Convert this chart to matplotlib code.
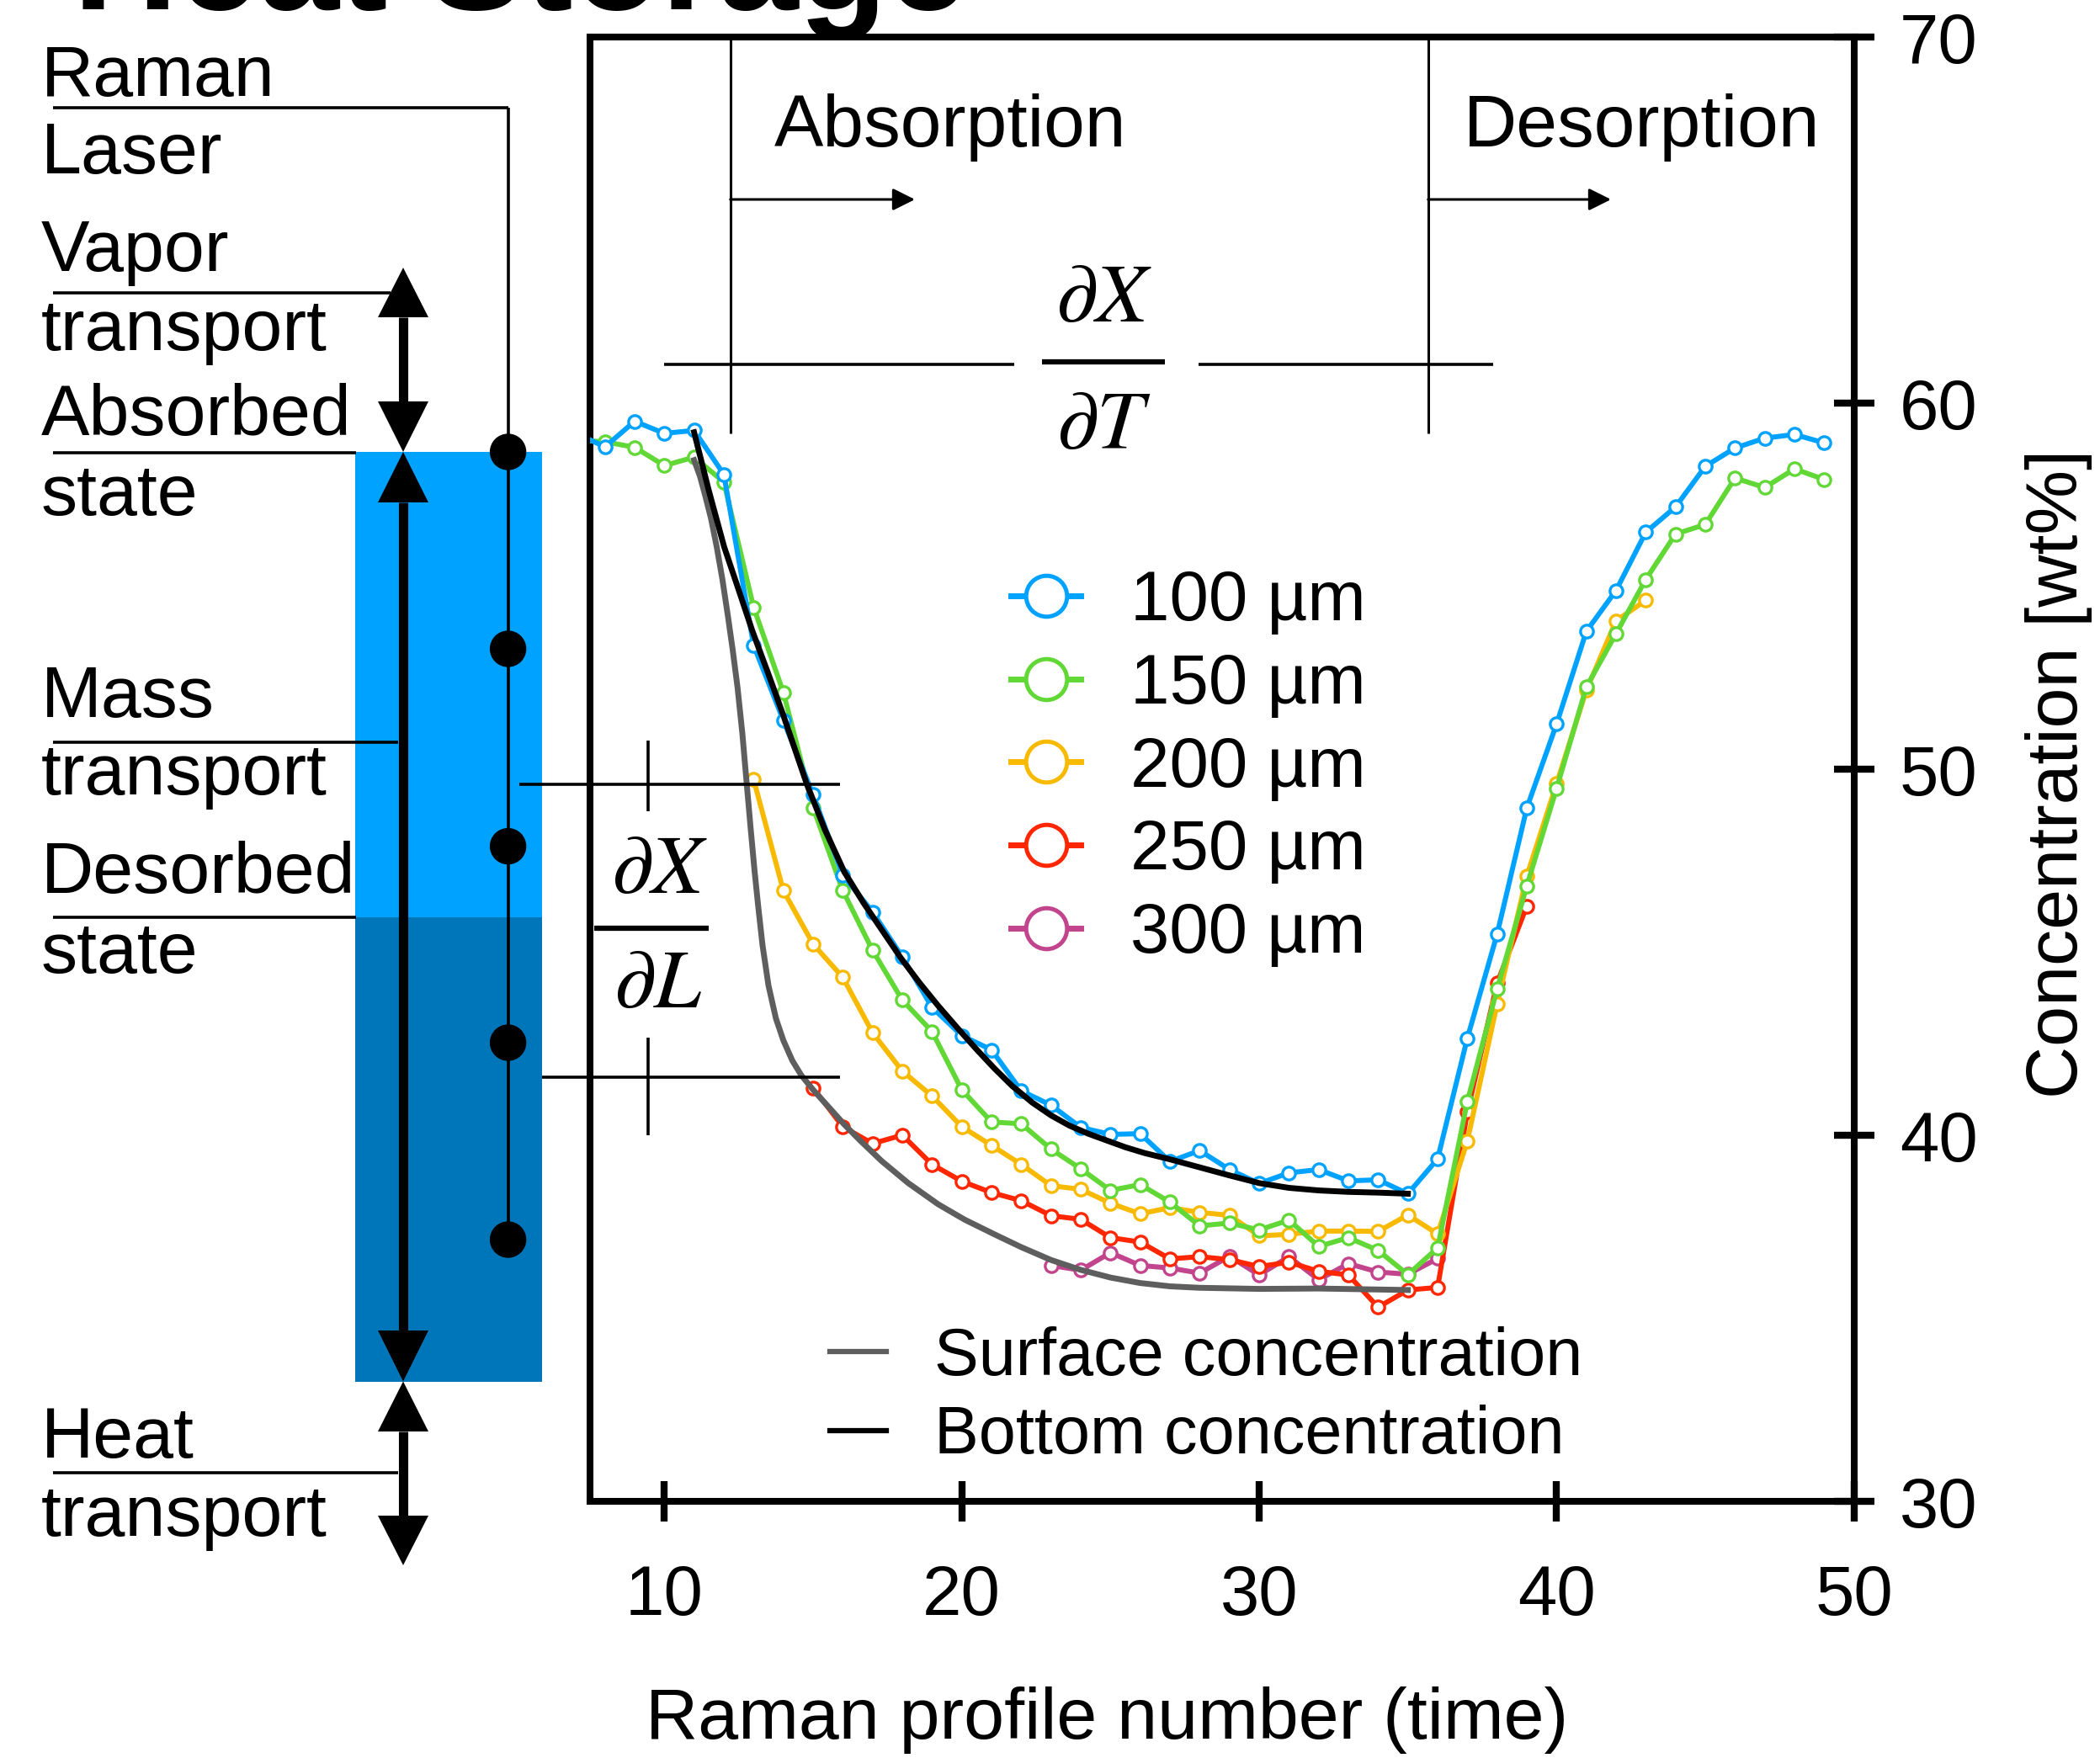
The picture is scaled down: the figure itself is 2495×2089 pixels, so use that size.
import matplotlib
matplotlib.use("Agg")
import matplotlib.pyplot as plt
from matplotlib.lines import Line2D
from matplotlib.patches import Rectangle, Circle, Polygon

plt.rcParams['font.family'] = ['Liberation Sans', 'DejaVu Sans']
plt.rcParams['mathtext.fontset'] = 'stix'

# ---------------- data ----------------
x100 = list(range(7, 50))
y100 = [59.2, 58.81, 59.51, 59.18, 59.26, 58.06, 53.39, 51.34, 49.31, 47.11,
        46.11, 44.88, 43.50, 42.73, 42.34, 41.22, 40.83, 40.22, 40.03, 40.05,
        39.29, 39.59, 39.07, 38.69, 38.98, 39.07, 38.76, 38.79, 38.41, 39.36,
        42.66, 45.50, 48.95, 51.24, 53.77, 54.89, 56.48, 57.17, 58.28, 58.78,
        59.05, 59.15, 58.92]

x150 = list(range(7, 50))
y150 = [59.0, 58.95, 58.80, 58.30, 58.53, 57.85, 54.43, 52.11, 48.96, 46.69,
        45.06, 43.70, 42.84, 41.25, 40.37, 40.32, 39.63, 39.09, 38.50, 38.66,
        38.18, 37.53, 37.61, 37.42, 37.69, 36.97, 37.21, 36.86, 36.20, 36.93,
        40.93, 44.00, 46.82, 49.48, 52.25, 53.71, 55.19, 56.43, 56.69, 57.96,
        57.70, 58.21, 57.92]

x200 = list(range(13, 44))
y200 = [49.73, 46.69, 45.23, 44.32, 42.81, 41.76, 41.08, 40.24, 39.73, 39.21,
        38.63, 38.53, 38.15, 37.86, 38.03, 37.90, 37.82, 37.26, 37.30, 37.39,
        37.39, 37.38, 37.83, 37.31, 39.85, 43.59, 47.09, 49.61, 52.16, 54.06,
        54.62]

x250 = list(range(15, 40))
y250 = [41.30, 40.24, 39.78, 40.01, 39.21, 38.75, 38.44, 38.22, 37.81, 37.71,
        37.21, 37.09, 36.63, 36.69, 36.61, 36.42, 36.54, 36.29, 36.19, 35.31,
        35.78, 35.85, 40.64, 44.16, 46.27]

x300 = list(range(23, 37))
y300 = [36.45, 36.32, 36.80, 36.45, 36.38, 36.24, 36.70, 36.19, 36.69, 36.06,
        36.50, 36.27, 36.21, 36.64]

x_surface = [11.0, 11.2, 11.38, 11.57, 11.76, 11.95, 12.14, 12.3, 12.46, 12.62,
             12.77, 12.9, 13.03, 13.15, 13.3, 13.5, 13.75, 14.0, 14.3, 14.6,
             15.0, 15.5, 16.05, 16.6, 17.31, 18.2, 19.21, 20.1, 21.1, 22.0,
             23.0, 24.0, 25.0, 26.0, 27.0, 28.0, 30.0, 32.0, 35.0]
y_surface = [58.45, 58.0, 57.46, 56.85, 56.08, 55.2, 54.17, 53.25, 52.24, 51.0,
             49.6, 48.4, 47.25, 46.3, 45.2, 44.1, 43.2, 42.6, 42.05, 41.65,
             41.25, 40.8, 40.3, 39.85, 39.3, 38.7, 38.12, 37.7, 37.3, 36.95,
             36.6, 36.33, 36.12, 35.97, 35.88, 35.84, 35.81, 35.82, 35.78]

x_bottom = [11.0, 11.5, 12.01, 12.5, 12.96, 13.5, 14.0, 14.79, 15.4, 16.05, 16.7,
            17.31, 17.95, 18.58, 19.2, 19.84, 20.5, 21.1, 21.7, 22.37, 23.0,
            23.62, 24.25, 24.89, 25.5, 26.15, 27.0, 28.0, 29.0, 30.0, 31.0,
            32.0, 33.0, 34.0, 35.0]
y_bottom = [59.21, 57.6, 56.08, 54.9, 53.78, 52.6, 51.48, 49.6, 48.35, 47.2, 46.35,
            45.62, 44.85, 44.17, 43.55, 42.95, 42.35, 41.83, 41.35, 40.9, 40.55,
            40.27, 40.05, 39.86, 39.68, 39.52, 39.35, 39.13, 38.91, 38.7, 38.57,
            38.5, 38.46, 38.44, 38.41]

series_labels = ['100 µm', '150 µm', '200 µm', '250 µm', '300 µm']
series_colors = ['#00A2FF', '#61D836', '#F8BA00', '#FF2600', '#C2448C']
curve_labels = ['Surface concentration', 'Bottom concentration']
curve_colors = ['#5E5E5E', '#000000']

xticks = [10, 20, 30, 40, 50]
yticks = [30, 40, 50, 60, 70]

# ---------------- figure ----------------
W, H = 2495, 2089
fig = plt.figure(figsize=(W / 100, H / 100), dpi=100)

L, R, T, B = 701, 2202.7, 44.3, 1784.3
ax = fig.add_axes([L / W, (H - B) / H, (R - L) / W, (B - T) / H])
ax.set_xlim(7.5, 50)
ax.set_ylim(30, 70)
ax.set_xticks(xticks)
ax.set_yticks(yticks)
ax.yaxis.tick_right()
ax.tick_params(axis='both', direction='inout', length=34, width=6, labelsize=60)
ax.tick_params(axis='x', pad=36)
ax.tick_params(axis='y', pad=22)
for s in ax.spines.values():
    s.set_linewidth(5.8)

xs = [x300, x250, x200, x150, x100]
ys = [y300, y250, y200, y150, y100]
cols = series_colors[::-1]
for xv, yv, c in zip(xs, ys, cols):
    ax.plot(xv, yv, '-o', color=c, lw=4.3, ms=11, mfc='white', mec=c, mew=2.4, zorder=3)

ax.plot(x_surface, y_surface, '-', color=curve_colors[0], lw=5, zorder=4,
        solid_joinstyle='round')
ax.plot(x_bottom, y_bottom, '-', color=curve_colors[1], lw=5, zorder=4,
        solid_joinstyle='round')

h1 = [Line2D([], [], color=c, lw=5, marker='o', ms=35, mfc='white', mec=c, mew=3.6)
      for c in series_colors]
leg1 = ax.legend(h1, series_labels, loc='upper left',
                 bbox_to_anchor=(1201 / W, 1 - 676 / H), bbox_transform=fig.transFigure,
                 frameon=False, fontsize=60, handlelength=1.0, handletextpad=0.7,
                 labelspacing=0.25, borderpad=0, borderaxespad=0)
ax.add_artist(leg1)
h2 = [Line2D([], [], color=c, lw=4.5) for c in curve_colors]
ax.legend(h2, curve_labels, loc='upper left',
          bbox_to_anchor=(986 / W, 1 - 1576 / H), bbox_transform=fig.transFigure,
          frameon=False, fontsize=57, handlelength=0.85, handletextpad=0.72,
          labelspacing=0.23, borderpad=0, borderaxespad=0)

# ---------------- overlay (schematic + annotations, in pixels) ----------------
ov = fig.add_axes([0, 0, 1, 1], zorder=5)
ov.set_xlim(0, W)
ov.set_ylim(H, 0)
ov.set_axis_off()
ov.patch.set_alpha(0)


def seg(x0, y0, x1, y1, lw=2.6, z=3):
    ov.plot([x0, x1], [y0, y1], color='k', lw=lw, solid_capstyle='butt', zorder=z)


# title (cut at the top edge, as in the source figure)
ov.text(1150, 10.7, 'Heat Storage', ha='right', va='baseline', fontsize=124,
        fontweight='bold')

# blue sample block
ov.add_patch(Rectangle((422, 537), 222, 553, color='#00A2FF', lw=0, zorder=1))
ov.add_patch(Rectangle((422, 1090), 222, 551.5, color='#0076BA', lw=0, zorder=1))

# Raman laser line and dots
seg(62.5, 128, 603.6, 128)
seg(603.6, 128, 603.6, 1473)
for yy in [537, 771, 1005.6, 1239, 1473]:
    ov.add_patch(Circle((603.6, yy), 21, color='k', zorder=4))

# label lines
for yy, xe in [(348, 464), (538, 423), (881.6, 473), (1090, 423), (1749.6, 473)]:
    seg(62.5, yy, xe, yy)

# thick double arrows
ax_x = 479
for y0, y1 in [(377, 477), (597, 1581), (1701, 1801)]:
    seg(ax_x, y0, ax_x, y1, lw=8, z=4)
for tip, base in [(318, 377), (537, 597), (1641.5, 1701),
                  (537, 477), (1641.5, 1581), (1860, 1801)]:
    ov.add_patch(Polygon([(ax_x, tip), (ax_x - 30, base), (ax_x + 30, base)],
                         closed=True, color='k', lw=0, zorder=4))

# texts of schematic
for txt, yb in [('Raman', 114), ('Laser', 206), ('Vapor', 322), ('transport', 416),
                ('Absorbed', 517), ('state', 612), ('Mass', 852), ('transport', 943.6),
                ('Desorbed', 1061), ('state', 1156), ('Heat', 1732), ('transport', 1825)]:
    ov.text(49, yb, txt, ha='left', va='baseline', fontsize=62)

# dX/dL markers
seg(617, 932, 998, 932)
seg(644, 1279.5, 998, 1279.5)
seg(770, 880, 770, 964)
seg(770, 1232.6, 770, 1348.7)
seg(705.6, 1103, 841.8, 1103, lw=4.5)
ov.text(783, 1060.7, r'$\partial X$', ha='center', va='baseline', fontsize=72)
ov.text(782, 1196.9, r'$\partial L$', ha='center', va='baseline', fontsize=72)

# dX/dT markers
seg(789, 432.8, 1204.5, 432.8)
seg(1424, 432.8, 1774, 432.8)
seg(1238, 429.6, 1384, 429.6, lw=4.5)
ov.text(1311, 382, r'$\partial X$', ha='center', va='baseline', fontsize=72)
ov.text(1311, 533.3, r'$\partial T$', ha='center', va='baseline', fontsize=72)

# absorption / desorption
seg(867.7, 44, 867.7, 515, lw=2.2)
seg(1696.7, 44, 1696.7, 515, lw=2.2)
for x0, x1 in [(867.7, 1087), (1696.7, 1914)]:
    ov.annotate('', xy=(x1, 237), xytext=(x0, 237),
                arrowprops=dict(arrowstyle='-|>', lw=2.2, color='k',
                                mutation_scale=40, shrinkA=0, shrinkB=0))
ov.text(920, 174, 'Absorption', ha='left', va='baseline', fontsize=63)
ov.text(1739, 174, 'Desorption', ha='left', va='baseline', fontsize=63)

# axis labels
ov.text(1315.5, 2066, 'Raman profile number (time)', ha='center', va='baseline',
        fontsize=62)
ov.text(2446, 919, 'Concentration [wt%]', ha='center', va='center', rotation=90,
        fontsize=62)

fig.savefig('out.png', dpi=100)
